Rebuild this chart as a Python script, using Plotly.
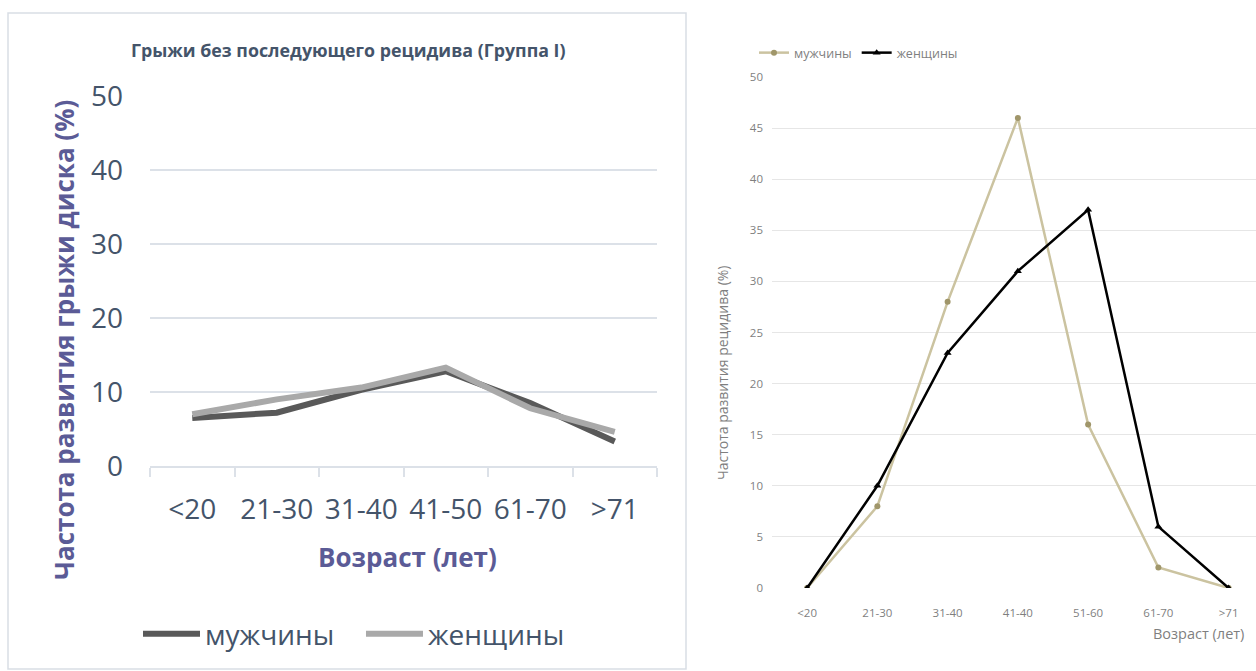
import plotly.graph_objects as go

W, H = 1256, 671

# Left chart: hernias without later recurrence (Group I)
ages_left = ["<20", "21-30", "31-40", "41-50", "61-70", ">71"]
men_left = [6.5, 7.2, 10.3, 12.8, 8.5, 3.3]
women_left = [7.0, 9.0, 10.6, 13.3, 7.8, 4.6]

# Right chart: recurrence frequency by age
ages_right = ["<20", "21-30", "31-40", "41-40", "51-60", "61-70", ">71"]
men_right = [0, 8, 28, 46, 16, 2, 0]
women_right = [0, 10, 23, 31, 37, 6, 0]

y_ticks_left = [0, 10, 20, 30, 40, 50]
y_ticks_right = [0, 5, 10, 15, 20, 25, 30, 35, 40, 45, 50]

NBSP = "\u00a0"


def px_x(v):
    return v / W


def px_y(v):
    return 1 - v / H


SLATE = "#44546A"
PURPLE = "#5B5B96"
GRID_L = "#DCE1E8"
GREY_R = "#7F7F7F"

fig = go.Figure()

fig.add_trace(go.Scatter(
    x=ages_left, y=men_left, name="мужчины" + NBSP * 3, mode="lines",
    line=dict(color="#595959", width=6), xaxis="x", yaxis="y", legend="legend",
))
fig.add_trace(go.Scatter(
    x=ages_left, y=women_left, name="женщины", mode="lines",
    line=dict(color="#A9A9A9", width=6), xaxis="x", yaxis="y", legend="legend",
))

fig.add_trace(go.Scatter(
    x=ages_right, y=men_right, name="мужчины", mode="lines+markers",
    line=dict(color="#CBC3A0", width=2.5),
    marker=dict(color="#A0966A", size=6, symbol="circle"),
    xaxis="x2", yaxis="y2", legend="legend2",
))
fig.add_trace(go.Scatter(
    x=ages_right, y=women_right, name="женщины", mode="lines+markers",
    line=dict(color="#000000", width=2.5),
    marker=dict(color="#000000", size=7, symbol="triangle-up"),
    xaxis="x2", yaxis="y2", legend="legend2",
))

fig.update_layout(
    template="none",
    width=W, height=H,
    margin=dict(l=0, r=0, t=0, b=0, autoexpand=False),
    paper_bgcolor="white", plot_bgcolor="white",
    font=dict(family="Open Sans", color=SLATE),
    xaxis=dict(
        domain=[px_x(150), px_x(657)], anchor="y", type="category",
        range=[-0.5, 5.5], showgrid=False, zeroline=False, automargin=False,
        showline=True, linecolor=GRID_L, linewidth=1.5,
        ticks="outside", tickson="boundaries", ticklen=9,
        tickcolor=GRID_L, tickwidth=1.5,
        tickfont=dict(size=28, color=SLATE), ticklabelstandoff=18,
    ),
    yaxis=dict(
        domain=[px_y(466), px_y(96)], anchor="x", range=[0, 50],
        tickvals=y_ticks_left, showgrid=True, gridcolor=GRID_L, gridwidth=1.5,
        zeroline=False, showline=False, ticks="", automargin=False,
        tickfont=dict(size=28, color=SLATE), ticklabelstandoff=26,
    ),
    xaxis2=dict(
        domain=[px_x(772), 1.0], anchor="y2", type="category",
        range=[-0.5, 6.39], showgrid=False, zeroline=False, showline=False,
        ticks="", automargin=False,
        tickfont=dict(size=11.5, color=GREY_R), ticklabelstandoff=16,
    ),
    yaxis2=dict(
        domain=[px_y(588), px_y(77)], anchor="x2", range=[0, 50],
        tickvals=y_ticks_right, showgrid=True, gridcolor="#E6E6E6", gridwidth=1,
        zeroline=False, showline=False, ticks="", automargin=False,
        tickfont=dict(size=11.5, color=GREY_R), ticklabelstandoff=8,
    ),
    legend=dict(
        orientation="h", x=px_x(138), y=px_y(634), xanchor="left", yanchor="middle",
        font=dict(size=28, color=SLATE), bgcolor="rgba(0,0,0,0)",
        itemwidth=57, tracegroupgap=0,
    ),
    legend2=dict(
        orientation="h", x=px_x(754), y=px_y(53), xanchor="left", yanchor="middle",
        font=dict(size=12.5, color=GREY_R), bgcolor="rgba(0,0,0,0)",
        itemwidth=30,
    ),
    showlegend=True,
    shapes=[dict(
        type="rect", xref="paper", yref="paper",
        x0=px_x(8), x1=px_x(686), y0=px_y(669), y1=px_y(13),
        line=dict(color="#D9DEE5", width=1.5), fillcolor="rgba(0,0,0,0)",
        layer="below",
    )],
    annotations=[
        dict(text="<b>Грыжи без последующего рецидива (Группа I)</b>",
             xref="paper", yref="paper", x=px_x(348), y=px_y(50),
             xanchor="center", yanchor="middle", showarrow=False,
             font=dict(size=17.8, color=SLATE)),
        dict(text="<b>Частота развития грыжи диска (%)</b>",
             xref="paper", yref="paper", x=px_x(64), y=px_y(340),
             xanchor="center", yanchor="middle", showarrow=False, textangle=-90,
             font=dict(size=26, color=PURPLE)),
        dict(text="<b>Возраст (лет)</b>",
             xref="paper", yref="paper", x=px_x(407), y=px_y(557),
             xanchor="center", yanchor="middle", showarrow=False,
             font=dict(size=26, color=PURPLE)),
        dict(text="Частота развития рецидива (%)",
             xref="paper", yref="paper", x=px_x(722), y=px_y(373),
             xanchor="center", yanchor="middle", showarrow=False, textangle=-90,
             font=dict(size=14, color=GREY_R)),
        dict(text="Возраст (лет)",
             xref="paper", yref="paper", x=px_x(1246), y=px_y(633),
             xanchor="right", yanchor="middle", showarrow=False,
             font=dict(size=14.5, color=GREY_R)),
    ],
)

fig.write_html("out.html")
